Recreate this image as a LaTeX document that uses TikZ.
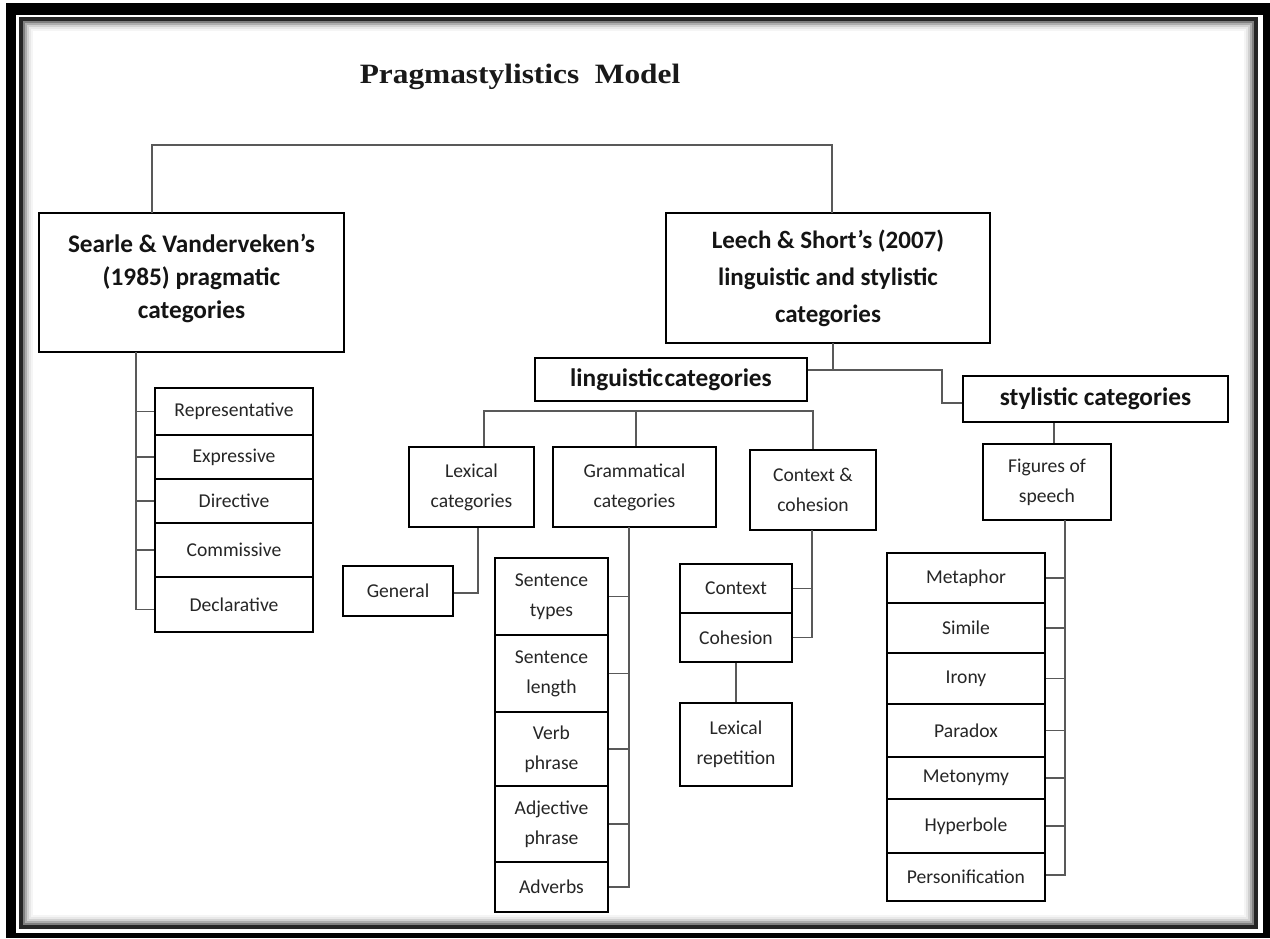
\documentclass[tikz,border=0pt]{standalone}
\usepackage{graphicx}
\usepackage{fontspec}
\setmainfont{Carlito}
\newfontfamily\titlefont{Liberation Serif}
\begin{document}
\begin{tikzpicture}[x=1pt,y=-1pt,
 bx/.style={draw=black, line width=2.4pt, rectangle, inner sep=0pt, align=center, text=black!85},
 hd/.style={bx, font=\bfseries\fontsize{25.3}{33}\selectfont, text=black!92},
 sm/.style={bx, font=\fontsize{19.6}{30}\selectfont},
 cn/.style={draw=black!65, line width=1.5pt}]
\useasboundingbox (0,0) rectangle (1270,938);
% frame
\fill[black] (6,3) rectangle (1270,938);
\fill[white] (16,14.5) rectangle (1262.5,933);
\draw[line width=4pt, black!85] (21,19) rectangle (1256,927);
\fill[white] (23,21) rectangle (1254,925);
\foreach \i/\c in {1/50,3/32,5/18,7/9,9/4}
  \draw[line width=2.2pt, black!\c] ({23+\i},{21+\i}) rectangle ({1254-\i},{925-\i});

% title
\node[font=\titlefont\bfseries\fontsize{28}{30}\selectfont, anchor=base, text=black!90, inner sep=0pt] (title) at (520,83) {\scalebox{1.12}[1]{Pragmastylistics\hspace{0.25em} Model}};

% main boxes
\node[hd, minimum width=305pt, minimum height=139pt] (searle) at (191.5,282.5) {Searle \& Vanderveken's\\(1985) pragmatic\\categories\\[-20pt]\mbox{}};
\node[hd, font=\bfseries\fontsize{25}{37}\selectfont, minimum width=324pt, minimum height=130pt] (leech) at (828,278) {Leech \& Short's (2007)\\linguistic and stylistic\\categories};
\coordinate (ts) at (152,213);
\coordinate (tl) at (832,213);
\draw[cn] (ts) -- ++(0,-68) -| (tl);

% Searle items
\node[sm, minimum width=158pt, minimum height=47pt] (rep) at (234,411.5) {Representative};
\node[sm, minimum width=158pt, minimum height=44pt] (expr) at (234,457) {Expressive};
\node[sm, minimum width=158pt, minimum height=44pt] (dir) at (234,501) {Directive};
\node[sm, minimum width=158pt, minimum height=54pt] (comm) at (234,550) {Commissive};
\node[sm, minimum width=158pt, minimum height=55pt] (decl) at (234,604.5) {Declarative};
\coordinate (sspine) at (136,352);
\draw[cn] (sspine) |- ([yshift=-5]decl.west);
\foreach \n in {rep,expr,dir,comm} \draw[cn] (\n.west) -- (\n.west -| sspine);

% linguistic / stylistic
\node[hd, minimum width=272pt, minimum height=43pt] (ling) at (671,379.5) {linguistic\hspace{0.05em}categories};
\node[hd, minimum width=265pt, minimum height=46pt] (styl) at (1095.5,399) {stylistic categories};
\coordinate (lb) at (833,343);
\coordinate (lj) at (833,370);
\coordinate (lk) at (942,370);
\draw[cn] (lb) -- (lj);
\draw[cn] ([yshift=9.5]ling.east) -- (lk) |- ([yshift=-4]styl.west);

% second level
\node[sm, minimum width=125pt, minimum height=80pt] (lex) at (471.5,487) {Lexical\\categories};
\node[sm, minimum width=163pt, minimum height=80pt] (gram) at (634.5,487) {Grammatical\\categories};
\node[sm, minimum width=126pt, minimum height=80pt] (cc) at (813,490) {Context \&\\cohesion};
\coordinate (bar) at (636,411);
\draw[cn] ([xshift=12.5]lex.north) |- (cc.north |- bar) -- (cc.north);
\draw[cn] ([xshift=1.5]gram.north) -- (bar);

% lexical
\node[sm, minimum width=110pt, minimum height=50pt] (gen) at (398,591) {General};
\draw[cn] ([xshift=6.5]lex.south) |- ([yshift=-2]gen.east);

% grammatical
\node[sm, minimum width=113pt, minimum height=77pt] (st) at (551.5,596.5) {Sentence\\types};
\node[sm, minimum width=113pt, minimum height=77pt] (sl) at (551.5,673.5) {Sentence\\length};
\node[sm, minimum width=113pt, minimum height=74pt] (vp) at (551.5,749) {Verb\\phrase};
\node[sm, minimum width=113pt, minimum height=76pt] (ap) at (551.5,824) {Adjective\\phrase};
\node[sm, minimum width=113pt, minimum height=50pt] (adv) at (551.5,887) {Adverbs};
\coordinate (gsp) at (629,527);
\draw[cn] (gsp) |- (adv.east);
\foreach \n in {st,sl,vp,ap} \draw[cn] (\n.east) -- (\n.east -| gsp);

% context & cohesion
\node[sm, minimum width=112pt, minimum height=49pt] (ctx) at (736,588.5) {Context};
\node[sm, minimum width=112pt, minimum height=49pt] (coh) at (736,637.5) {Cohesion};
\node[sm, minimum width=112pt, minimum height=83pt] (lrep) at (736,744.5) {Lexical\\repetition};
\coordinate (csp) at (812,530);
\draw[cn] (csp) |- (coh.east);
\draw[cn] (ctx.east) -- (ctx.east -| csp);
\draw[cn] (coh.south) -- (lrep.north);

% stylistic
\node[sm, minimum width=128pt, minimum height=76pt] (fig) at (1047,482) {Figures of\\speech};
\draw[cn] ([xshift=-41.5]styl.south) -- ([xshift=7]fig.north);
\node[sm, minimum width=158pt, minimum height=50pt] (met) at (966,578) {Metaphor};
\node[sm, minimum width=158pt, minimum height=50pt] (sim) at (966,628) {Simile};
\node[sm, minimum width=158pt, minimum height=51pt] (iro) at (966,678.5) {Irony};
\node[sm, minimum width=158pt, minimum height=53pt] (par) at (966,730.5) {Paradox};
\node[sm, minimum width=158pt, minimum height=42pt] (mety) at (966,778) {Metonymy};
\node[sm, minimum width=158pt, minimum height=54pt] (hyp) at (966,826) {Hyperbole};
\node[sm, minimum width=158pt, minimum height=48pt] (pers) at (966,877) {Personification};
\coordinate (fsp) at (1065,520);
\draw[cn] (fsp) |- ([yshift=2]pers.east);
\foreach \n in {met,sim,iro,par,mety,hyp} \draw[cn] (\n.east) -- (\n.east -| fsp);
\end{tikzpicture}
\end{document}
